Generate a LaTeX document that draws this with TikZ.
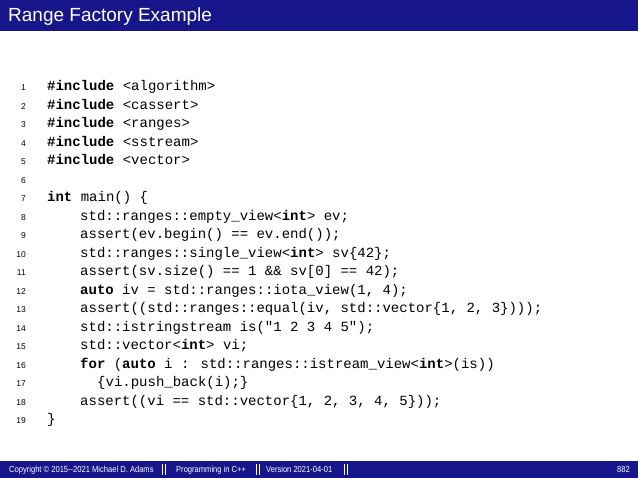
\documentclass[tikz,border=0pt]{standalone}
\usepackage{fontspec}
\setmainfont{Liberation Sans}
\newfontfamily\cmono{Liberation Mono}
\newfontfamily\footfont[FakeStretch=0.86]{Liberation Sans}
\definecolor{barblue}{RGB}{22,22,138}
\begin{document}
\begin{tikzpicture}[x=1pt,y=-1pt,
  code/.style={anchor=base west,inner sep=0,font=\cmono\fontsize{14}{15}\selectfont},
  num/.style={anchor=base east,inner sep=0,font=\fontsize{8.5}{9}\selectfont},
  foot/.style={anchor=base west,inner sep=0,text=white,font=\footfont\fontsize{8.8}{10}\selectfont}]
\useasboundingbox (0,0) rectangle (638,478);
\fill[white] (0,0) rectangle (638,478);
\fill[barblue] (0,0) rectangle (638,31);
\node[anchor=base west,inner sep=0,text=white,font=\fontsize{19}{20}\selectfont] (title) at (8,22) {Range Factory Example};
\fill[barblue] (0,461) rectangle (638,478);
\node[foot] (f1) at (9,473) {Copyright \textcopyright\ 2015--2021 Michael D. Adams};
\node[foot] (f2) at (176,473) {Programming in C++};
\node[foot] (f3) at (266,473) {Version 2021-04-01};
\foreach \xx in {162,256,344}{\fill[white] (\xx,464) rectangle ++(1.3,11); \fill[white] (\xx+3,464) rectangle ++(1.3,11);}
\node[foot,anchor=base east] (pg) at (630,473) {882};
\foreach \i in {1,...,19}{\node[num] (n\i) at (26,{86+(\i-1)*18.5+5}) {\i};}
\def\Y#1{{86+(#1-1)*18.5+5}}
\node[code] (c1) at (47,\Y1) {\textbf{\#include} <algorithm>};
\node[code] (c2) at (47,\Y2) {\textbf{\#include} <cassert>};
\node[code] (c3) at (47,\Y3) {\textbf{\#include} <ranges>};
\node[code] (c4) at (47,\Y4) {\textbf{\#include} <sstream>};
\node[code] (c5) at (47,\Y5) {\textbf{\#include} <vector>};
\node[code] (c7) at (47,\Y7) {\textbf{int} main() \{};
\node[code] (c8) at (80,\Y8) {std::ranges::empty\_view<\textbf{int}> ev;};
\node[code] (c9) at (80,\Y9) {assert(ev.begin() == ev.end());};
\node[code] (c10) at (80,\Y{10}) {std::ranges::single\_view<\textbf{int}> sv\{42\};};
\node[code] (c11) at (80,\Y{11}) {assert(sv.size() == 1 \&\& sv[0] == 42);};
\node[code] (c12) at (80,\Y{12}) {\textbf{auto} iv = std::ranges::iota\_view(1, 4);};
\node[code] (c13) at (80,\Y{13}) {assert((std::ranges::equal(iv, std::vector\{1, 2, 3\})));};
\node[code] (c14) at (80,\Y{14}) {std::istringstream is("1 2 3 4 5");};
\node[code] (c15) at (80,\Y{15}) {std::vector<\textbf{int}> vi;};
\node[code] (c16) at (80,\Y{16}) {\textbf{for} (\textbf{auto} i : std::ranges::istream\_view<\textbf{int}>(is))};
\node[code] (c17) at (97,\Y{17}) {\{vi.push\_back(i);\}};
\node[code] (c18) at (80,\Y{18}) {assert((vi == std::vector\{1, 2, 3, 4, 5\}));};
\node[code] (c19) at (47,\Y{19}) {\}};
\end{tikzpicture}
\end{document}
